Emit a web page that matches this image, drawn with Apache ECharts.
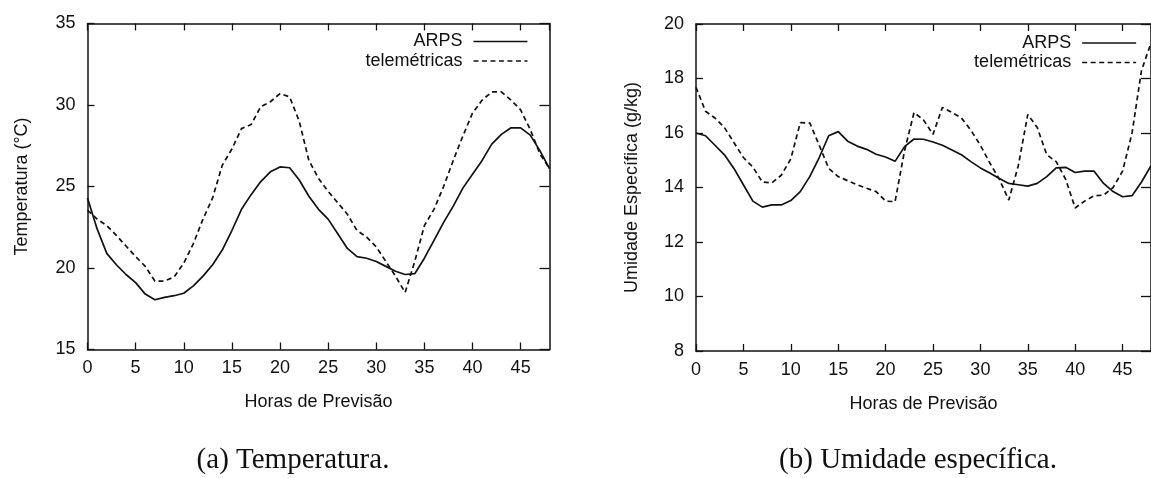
<!DOCTYPE html>
<html>
<head>
<meta charset="utf-8">
<title>Temperatura e umidade específica</title>
<script src="https://cdn.jsdelivr.net/npm/echarts@6/dist/echarts.min.js"></script>
<style>
  html, body { margin: 0; padding: 0; background: #fff; overflow: hidden; }
  #chart { width: 1151px; height: 478px; }
</style>
</head>
<body>
<div id="chart"></div>
<script>
// Forecast hours 0..48
const hours = [0,1,2,3,4,5,6,7,8,9,10,11,12,13,14,15,16,17,18,19,20,21,22,23,24,
               25,26,27,28,29,30,31,32,33,34,35,36,37,38,39,40,41,42,43,44,45,46,47,48];

// (a) Temperatura (°C)
const tempARPS = [24.3,22.4,20.9,20.2,19.6,19.1,18.4,18.05,18.2,18.3,18.45,18.9,19.5,20.2,21.1,22.3,
                  23.6,24.5,25.3,25.9,26.2,26.15,25.4,24.4,23.6,23.0,22.1,21.2,20.7,20.6,20.4,20.1,
                  19.8,19.6,19.65,20.6,21.7,22.8,23.8,24.9,25.75,26.6,27.6,28.2,28.6,28.6,28.15,27.2,26.1];
const tempTele = [23.55,23.0,22.6,22.0,21.35,20.7,20.1,19.2,19.2,19.45,20.3,21.5,23.0,24.3,26.3,27.3,
                  28.55,28.8,29.9,30.2,30.7,30.5,29.0,26.6,25.5,24.7,24.0,23.3,22.3,21.9,21.3,20.4,
                  19.5,18.5,20.4,22.6,23.6,25.0,26.6,28.1,29.5,30.3,30.8,30.8,30.3,29.7,28.5,27.0,26.1];

// (b) Umidade específica (g/kg)
const humARPS = [16.0,15.9,15.55,15.2,14.7,14.1,13.5,13.28,13.36,13.36,13.52,13.85,14.4,15.1,15.9,16.05,
                 15.7,15.52,15.4,15.22,15.12,14.96,15.5,15.78,15.77,15.67,15.55,15.38,15.2,14.95,14.72,14.53,
                 14.33,14.15,14.1,14.05,14.15,14.4,14.72,14.74,14.55,14.6,14.6,14.15,13.85,13.66,13.7,14.2,14.8];
const humTele = [17.68,16.8,16.55,16.2,15.65,15.1,14.75,14.2,14.17,14.45,15.05,16.38,16.37,15.55,14.7,14.4,
                 14.25,14.1,13.97,13.85,13.5,13.48,15.35,16.75,16.48,15.95,16.94,16.75,16.55,16.1,15.55,14.9,
                 14.3,13.54,14.8,16.68,16.2,15.2,14.95,14.3,13.25,13.5,13.7,13.72,14.0,14.6,16.0,18.3,19.3];

const seriesNames = ['ARPS', 'telemétricas'];
const axisNames = {
  x: 'Horas de Previsão',
  yTemp: 'Temperatura (°C)',
  yHum: 'Umidade Específica (g/kg)'
};
const captions = ['(a) Temperatura.', '(b) Umidade específica.'];

const pairs = (ys) => hours.map((h, i) => [h, ys[i]]);

const INK = '#111';
const SANS = 'Liberation Sans, Arial, sans-serif';
const FS = 18;

function frameAxis(extra) {
  return Object.assign({
    type: 'value',
    axisLine: { show: true, onZero: false, lineStyle: { color: INK, width: 1.5 } },
    axisTick: { show: true, inside: true, length: 7, lineStyle: { color: INK, width: 1.3 } },
    splitLine: { show: false },
    axisLabel: { show: false }
  }, extra);
}

function xAxes(gridIndex) {
  return [
    frameAxis({
      gridIndex, position: 'bottom', min: 0, max: 48, interval: 5,
      name: axisNames.x, nameLocation: 'middle', nameGap: 44,
      nameTextStyle: { fontFamily: SANS, fontSize: FS, color: INK },
      axisLabel: { show: true, showMaxLabel: false, margin: 10, fontFamily: SANS, fontSize: FS, color: INK }
    }),
    frameAxis({ gridIndex, position: 'top', min: 0, max: 48, interval: 5 })
  ];
}

function yAxes(gridIndex, min, max, interval, name, gap) {
  return [
    frameAxis({
      gridIndex, position: 'left', min, max, interval,
      name, nameLocation: 'middle', nameGap: gap,
      nameTextStyle: { fontFamily: SANS, fontSize: FS, color: INK },
      axisLabel: { show: true, margin: 12, fontFamily: SANS, fontSize: FS, color: INK }
    }),
    frameAxis({ gridIndex, position: 'right', min, max, interval,
                axisTick: { show: true, inside: true, length: 10, lineStyle: { color: INK, width: 1.3 } } })
  ];
}

function lineSeries(name, data, dashed, xi, yi) {
  return {
    type: 'line', name, data,
    xAxisIndex: xi, yAxisIndex: yi,
    symbol: 'none', smooth: false, silent: true, animation: false,
    lineStyle: { color: INK, width: 1.7, type: dashed ? [5, 3.5] : 'solid' },
    itemStyle: { color: INK }
  };
}

// Key: text on the left, a plain line sample on the right (no marker)
function legendAt(right, top) {
  return {
    data: seriesNames,
    orient: 'vertical', align: 'right',
    right, top, padding: 0,
    itemWidth: 54, itemHeight: 14, itemGap: 1.5,
    selectedMode: false,
    itemStyle: { opacity: 0, borderWidth: 0 },
    lineStyle: { width: 1.7 },
    textStyle: { fontFamily: SANS, fontSize: FS, lineHeight: 18, color: INK, padding: [0, 6, 0, 0] }
  };
}

const chart = echarts.init(document.getElementById('chart'), null, { renderer: 'canvas' });

chart.setOption({
  backgroundColor: '#fff',
  animation: false,
  grid: [
    { left: 87.5, top: 23.5, width: 462, height: 326, containLabel: false },
    { left: 696, top: 24, width: 462, height: 327, containLabel: false }
  ],
  xAxis: [...xAxes(0), ...xAxes(1)],
  yAxis: [
    ...yAxes(0, 15, 35, 5, axisNames.yTemp, 56),
    ...yAxes(1, 8, 20, 2, axisNames.yHum, 55)
  ],
  legend: [legendAt(622.7, 32.5), legendAt(14, 34)],
  series: [
    lineSeries(seriesNames[0], pairs(tempARPS), false, 0, 0),
    lineSeries(seriesNames[1], pairs(tempTele), true, 0, 0),
    lineSeries(seriesNames[0], pairs(humARPS), false, 2, 2),
    lineSeries(seriesNames[1], pairs(humTele), true, 2, 2)
  ],
  graphic: [
    { type: 'text', x: 293, y: 460, silent: true,
      style: { text: captions[0], textAlign: 'center', textVerticalAlign: 'middle',
               font: '29px "Liberation Serif", "Times New Roman", serif', fill: '#111' } },
    { type: 'text', x: 918, y: 460, silent: true,
      style: { text: captions[1], textAlign: 'center', textVerticalAlign: 'middle',
               font: '29px "Liberation Serif", "Times New Roman", serif', fill: '#111' } }
  ]
});
</script>
</body>
</html>
